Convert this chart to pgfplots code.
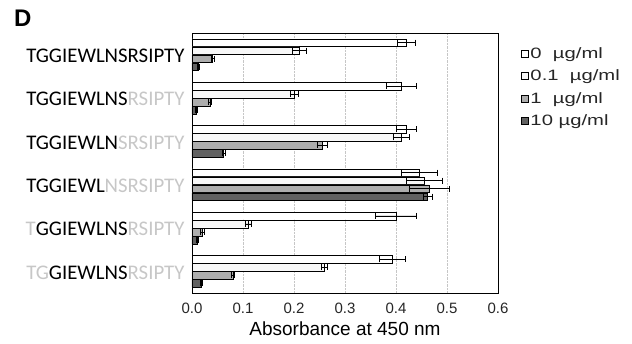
\documentclass[border=0pt]{standalone}
\usepackage{pgfplots}
\pgfplotsset{compat=1.18}
\usepackage{fontspec}
\setmainfont{Liberation Sans}
\newfontfamily\labfont{Carlito}
\definecolor{faint}{gray}{0.78}
\definecolor{lightbar}{gray}{0.68}
\definecolor{darkbar}{gray}{0.38}
\newcommand{\legtxt}[1]{\scalebox{1.35}[1]{#1}}
\begin{document}
\begin{tikzpicture}
\path[use as bounding box] (0pt,0pt) rectangle (632pt,344pt);
\node[anchor=north west, font=\fontsize{24}{24}\selectfont\bfseries, inner sep=0] at (14pt,334pt) {D};
\begin{axis}[
  at={(192pt,51pt)}, anchor=south west,
  width=306pt, height=260pt, scale only axis,
  xbar, y dir=reverse,
  xmin=0, xmax=0.6, ymin=-0.5, ymax=5.5,
  ytick={0,1,2,3,4,5},
  yticklabels={
    TGGIEWLNSRSIPTY,
    TGGIEWLNS\textcolor{faint}{RSIPTY},
    TGGIEWLN\textcolor{faint}{SRSIPTY},
    TGGIEWL\textcolor{faint}{NSRSIPTY},
    \textcolor{faint}{T}GGIEWLNS\textcolor{faint}{RSIPTY},
    \textcolor{faint}{TG}GIEWLNS\textcolor{faint}{RSIPTY}},
  xtick={0,0.1,0.2,0.3,0.4,0.5,0.6},
  xticklabel style={/pgf/number format/fixed, /pgf/number format/fixed zerofill, /pgf/number format/precision=1},
  /pgf/number format/assume math mode=true,
  xmajorgrids, grid style={densely dotted, gray!45},
  major tick length=0pt,
  xticklabel style={font=\fontsize{15}{15}\selectfont, text=black!85, yshift=-6pt},
  yticklabel style={font=\labfont\fontsize{20.8}{20.8}\selectfont, xshift=-4pt, yshift=-1pt},
  xlabel={Absorbance at 450 nm},
  xlabel style={font=\fontsize{19}{19}\selectfont, yshift=-2pt},
  bar width=7.5pt,
  axis line style={black, line width=0.8pt},
  legend image code/.code={\draw[#1, draw=black] (0pt,-3.5pt) rectangle (7pt,3.5pt);},
  legend style={at={(1.065,0.96)}, anchor=north west, draw=none, fill=none,
    font=\fontsize{15}{15}\selectfont, row sep=6pt, text=black!85},
  legend cell align=left,
  error bars/error bar style={black, line width=0.6pt},
  error bars/error mark options={rotate=90, mark size=3pt, black},
]
\addplot[bar shift=12pt, draw=black, fill=white, error bars/.cd, x dir=both, x explicit]
  table[x=x, y=y, x error=e] {
x y e
0.420 0 0.018
0.410 1 0.030
0.420 2 0.020
0.445 3 0.035
0.400 4 0.040
0.393 5 0.025
};
\addplot[bar shift=4pt, draw=black, fill=gray!6, error bars/.cd, x dir=both, x explicit]
  table[x=x, y=y, x error=e] {
x y e
0.210 0 0.014
0.200 1 0.008
0.410 2 0.015
0.455 3 0.035
0.110 4 0.006
0.260 5 0.006
};
\addplot[bar shift=-4pt, draw=black, fill=lightbar, error bars/.cd, x dir=both, x explicit]
  table[x=x, y=y, x error=e] {
x y e
0.040 0 0.003
0.035 1 0.003
0.255 2 0.010
0.465 3 0.040
0.020 4 0.003
0.080 5 0.003
};
\addplot[bar shift=-12pt, draw=black, fill=darkbar, error bars/.cd, x dir=both, x explicit]
  table[x=x, y=y, x error=e] {
x y e
0.012 0 0.002
0.008 1 0.002
0.062 2 0.003
0.462 3 0.008
0.010 4 0.002
0.018 5 0.002
};
\addlegendentry{\legtxt{0\ \ µg/ml}}
\addlegendentry{\legtxt{0.1\ \ µg/ml}}
\addlegendentry{\legtxt{1\ \ µg/ml}}
\addlegendentry{\legtxt{10 µg/ml}}
\end{axis}
\end{tikzpicture}
\end{document}
